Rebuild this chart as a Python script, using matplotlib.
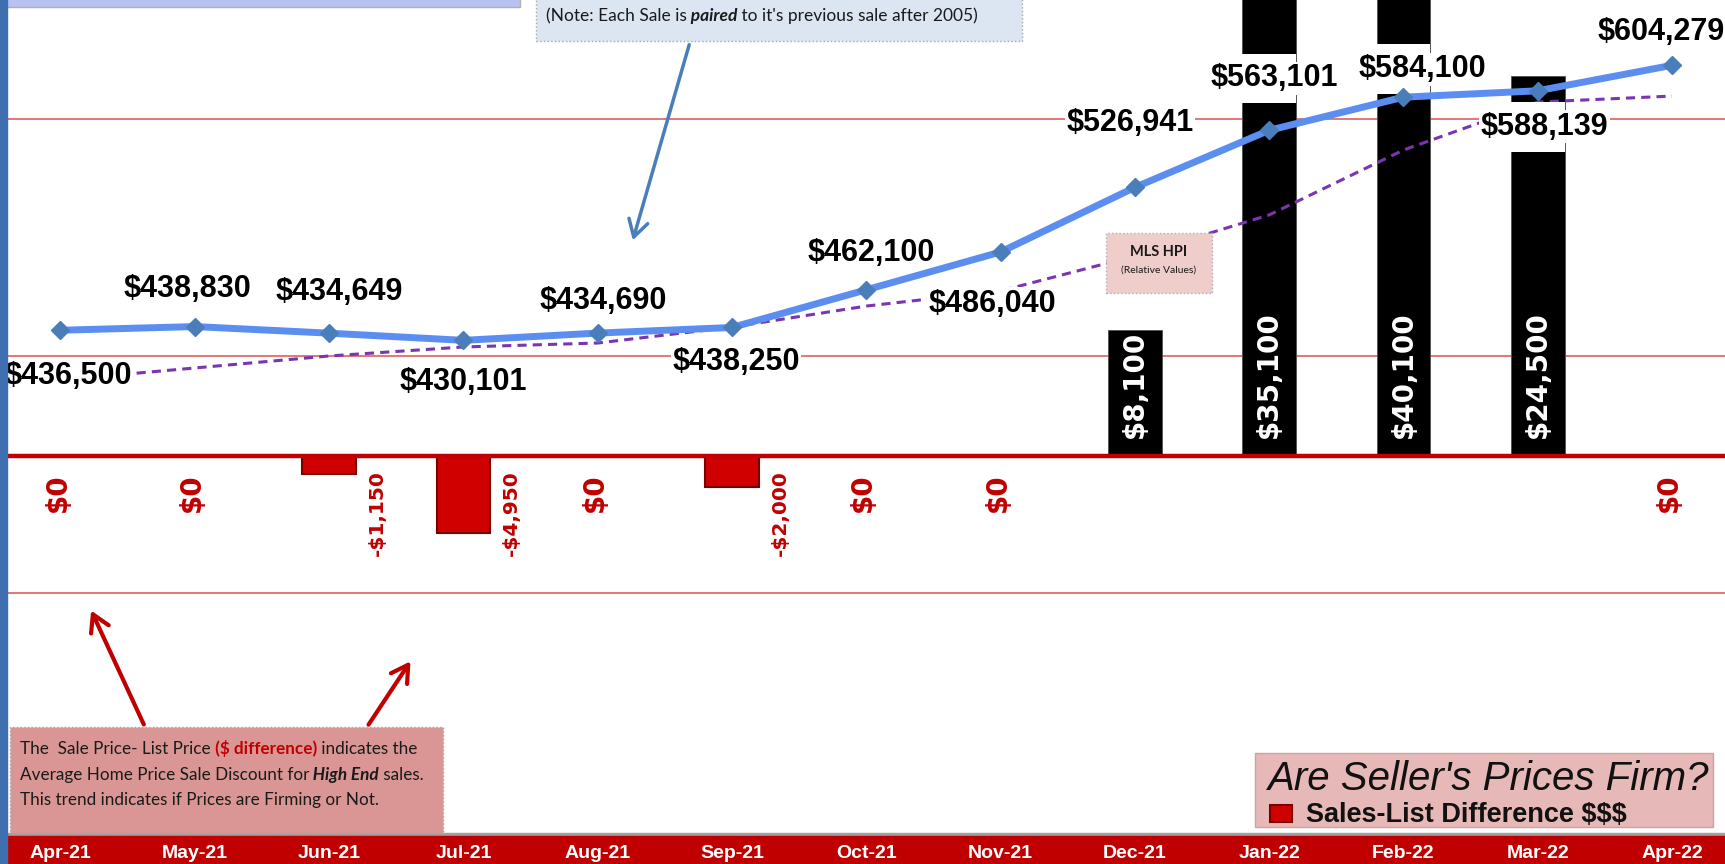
import matplotlib.pyplot as plt
import matplotlib.transforms as mtransforms
from matplotlib.patches import Rectangle, FancyArrowPatch

months = ['Apr-21', 'May-21', 'Jun-21', 'Jul-21', 'Aug-21', 'Sep-21', 'Oct-21',
          'Nov-21', 'Dec-21', 'Jan-22', 'Feb-22', 'Mar-22', 'Apr-22']
sale_prices = [436500, 438830, 434649, 430101, 434690, 438250, 462100,
               486040, 526941, 563101, 584100, 588139, 604279]
sales_list_diff = [0, 0, -1150, -4950, 0, -2000, 0, 0, 8100, 35100, 40100, 24500, 0]
# MLS HPI drawn in relative values
mls_hpi = [405000, 412600, 420200, 425900, 428400, 438500, 451800,
           461400, 483500, 509500, 550600, 581000, 584800]
price_grid = [270000, 420000, 570000]

# price label position relative to its marker, pixels (x right, y up)
label_offsets = [(8, -46), (-7, 38), (10, 41), (0, -42), (6, 32), (4, -35), (5, 37),
                 (-8, -52), (-5, 64), (5, 52), (19, 28), (7, -36), (-11, 33)]

W, H = 1725, 864
RED = '#c00000'
TEXT_FONT = 'Lato'

fig = plt.figure(figsize=(W / 100, H / 100), dpi=100)


def fpos(x, y):
    return x / W, 1 - y / H


def rect(x0, y0, x1, y1, **kw):
    fig.add_artist(Rectangle((x0 / W, 1 - y1 / H), (x1 - x0) / W, (y1 - y0) / H,
                             transform=fig.transFigure, **kw))


def arrow(x0, y0, x1, y1, color, lw=2.5):
    fig.add_artist(FancyArrowPatch(fpos(x0, y0), fpos(x1, y1), transform=fig.transFigure,
                                   arrowstyle='->,head_length=0.6,head_width=0.35',
                                   mutation_scale=20, color=color, lw=lw, zorder=8))


def draw_runs(x, y, runs, size):
    renderer = fig.canvas.get_renderer()
    for s, color, weight, style in runs:
        t = fig.text(x / W, 1 - y / H, s, color=color, fontweight=weight, fontstyle=style,
                     fontsize=size, family=TEXT_FONT, va='baseline', ha='left', zorder=9)
        x = t.get_window_extent(renderer).x1


ax = fig.add_axes([0, 34 / H, 1, 830 / H])
ax2 = ax.twinx()
x = list(range(len(months)))

# price gridlines sit behind the bars
grid_trans = mtransforms.blended_transform_factory(ax.transAxes, ax2.transData)
for g in price_grid:
    ax.plot([0, 1], [g, g], transform=grid_trans, color='#e06c6c', lw=1.3, zorder=0)

bar_colors = ['black' if v > 0 else '#d00000' for v in sales_list_diff]
bar_edges = ['#505050' if v > 0 else '#7a0000' for v in sales_list_diff]
bar_lw = [0.6 if v > 0 else 1.5 for v in sales_list_diff]
bars = ax.bar(x, sales_list_diff, width=0.4, color=bar_colors, edgecolor=bar_edges,
              linewidth=bar_lw, zorder=2)
ax.axhline(0, color=RED, lw=3.2, zorder=3)

for i, v in enumerate(sales_list_diff):
    if v > 0:
        ax.annotate(f'${v:,}', (i, 0), xytext=(0, 18), textcoords='offset pixels',
                    rotation=90, ha='center', va='bottom', color='white',
                    fontsize=20, fontweight='bold', family='DejaVu Sans', zorder=4)
    elif v == 0:
        ax.annotate('$0', (i, 0), xytext=(-3, -17), textcoords='offset pixels',
                    rotation=90, ha='center', va='top', color=RED,
                    fontsize=20, fontweight='bold', family='DejaVu Sans', zorder=4)
    else:
        ax.annotate(f'-${-v:,}', (i, 0), xytext=(48, -14), textcoords='offset pixels',
                    rotation=90, ha='center', va='top', color=RED,
                    fontsize=14.5, fontweight='bold', family='DejaVu Sans', zorder=4)

ax2.plot(x, mls_hpi, color='#7a35b0', lw=2.2, ls=(0, (3, 2)), zorder=3.5)
ax2.plot(x, sale_prices, color='#5b8ef0', lw=5, marker='D', ms=9,
         mfc='#4a7ebb', mec='#4a7ebb', zorder=5)

for i, v in enumerate(sale_prices):
    dx, dy = label_offsets[i]
    label_kw = dict(xytext=(dx, dy), textcoords='offset pixels', ha='center', va='center',
                    fontsize=22, fontweight='bold', family='Liberation Sans')
    # wide white label box, only shown where it cuts through the bar
    mask = ax2.annotate(f'${v:,}', (i, v), color='none', zorder=3.8,
                        bbox=dict(boxstyle='square,pad=0.32', fc='white', ec='none'),
                        **label_kw)
    mask.set_clip_path(bars[i])
    ax2.annotate(f'${v:,}', (i, v), color='black', zorder=4,
                 bbox=dict(boxstyle='square,pad=0.05', fc='white', ec='none'), **label_kw)

ax.set_xlim(-0.4505, 12.395)
ax.set_ylim(-24130, 29420)
ax2.set_ylim(120000, 645640)
ax.set_axis_off()
ax2.set_axis_off()

# month band along the bottom
rect(0, 833, W, 836, color='#a0a0a0', zorder=5)
rect(0, 836, W, H + 2, color=RED, zorder=5)
month_trans = mtransforms.blended_transform_factory(ax.transData, fig.transFigure)
for i, m in enumerate(months):
    fig.text(i, 1 - 853 / H, m, transform=month_trans, ha='center', va='center',
             color='white', fontsize=14, fontweight='bold', family='Liberation Sans',
             zorder=6)

# frame edge and top boxes
rect(0, 0, 7, H, color='#3f6fae', zorder=10)
rect(0, -5, 520, 7, fc='#b8c2f0', ec='#b0b0b0', lw=1, zorder=6)
rect(536, -5, 1022, 41, fc='#dce6f2', ec='#a6a6a6', lw=1, ls=':', zorder=6)
draw_runs(546, 21, [('(Note: Each Sale is', '#1a1a1a', 'normal', 'normal'),
                    (' paired', '#1a1a1a', 'bold', 'italic'),
                    (" to it's previous sale after 2005)", '#1a1a1a', 'normal', 'normal')], 12.5)
arrow(690, 42, 632, 243, '#4a7ebb')

# MLS HPI tag
rect(1106, 233, 1212, 293, fc='#efcdcb', ec='#b0b0b0', lw=1, ls=':', zorder=6)
fig.text(*fpos(1159, 252), 'MLS HPI', ha='center', va='center', fontsize=10.5,
         fontweight='bold', family=TEXT_FONT, color='#1a1a1a', zorder=7)
fig.text(*fpos(1159, 270), '(Relative Values)', ha='center', va='center', fontsize=7.5,
         family=TEXT_FONT, color='#1a1a1a', zorder=7)

# explanation box, bottom left
rect(10, 727, 443, 833, fc='#d99694', ec='#a6a6a6', lw=1, ls=':', zorder=6)
draw_runs(20, 754, [('The  Sale Price- List Price', '#1a1a1a', 'normal', 'normal'),
                    (' ($ difference)', RED, 'bold', 'normal'),
                    (' indicates the', '#1a1a1a', 'normal', 'normal')], 12.3)
draw_runs(20, 780, [('Average Home Price Sale Discount for', '#1a1a1a', 'normal', 'normal'),
                    (' High End', '#1a1a1a', 'bold', 'italic'),
                    (' sales.', '#1a1a1a', 'normal', 'normal')], 12.3)
draw_runs(20, 805, [('This trend indicates if Prices are Firming or Not.',
                     '#1a1a1a', 'normal', 'normal')], 12.3)
arrow(145, 727, 90, 608, RED, lw=3)
arrow(367, 727, 412, 659, RED, lw=3)

# legend box, bottom right
rect(1255, 753, 1713, 827, fc='#e6b9b8', ec='#d0a0a0', lw=1, zorder=6)
fig.text(*fpos(1268, 790), "Are Seller's Prices Firm?", ha='left', va='baseline',
         fontsize=29, fontstyle='italic', family='Liberation Sans', color='#111111', zorder=7)
rect(1270, 805, 1292, 822, fc='#d00000', ec='#7a0000', lw=1.5, zorder=7)
fig.text(*fpos(1306, 822), 'Sales-List Difference $$$', ha='left', va='baseline',
         fontsize=19.5, fontweight='bold', family='Liberation Sans', color='#111111', zorder=7)

fig.savefig('out.png', dpi=100)
